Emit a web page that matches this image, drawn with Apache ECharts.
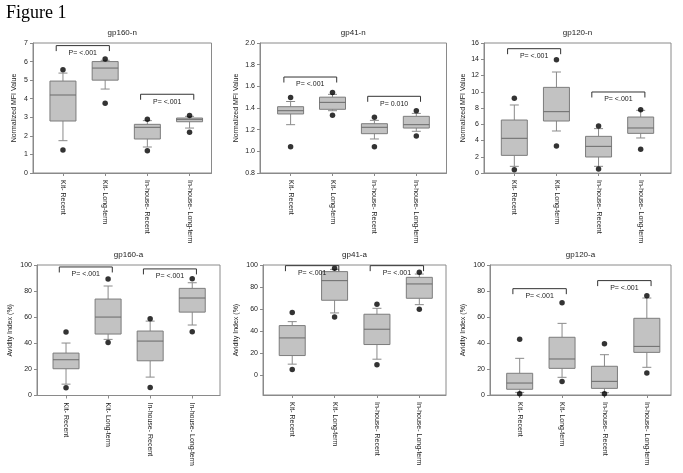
<!DOCTYPE html>
<html>
<head>
<meta charset="utf-8">
<script src="https://cdn.jsdelivr.net/npm/echarts@6/dist/echarts.min.js"></script>
<style>
html,body{margin:0;padding:0;background:#fff;}
#chart{width:683px;height:473px;}
</style>
</head>
<body>
<div id="chart"></div>
<script>
// ---------- DATA ----------
const categories = ['Kit- Recent', 'Kit- Long-term', 'In-house- Recent', 'In-house- Long-term'];
const panelTitles = ['gp160-n', 'gp41-n', 'gp120-n', 'gp160-a', 'gp41-a', 'gp120-a'];
const yAxisNames = ['Normalized MFI Value', 'Normalized MFI Value', 'Normalized MFI Value',
                    'Avidity Index (%)', 'Avidity Index (%)', 'Avidity Index (%)'];

// box values per category: [lower whisker, Q1, median, Q3, upper whisker]
const gp160nBoxes = [[1.74, 2.80, 4.20, 4.95, 5.38], [4.52, 5.00, 5.65, 6.00, 6.07], [1.40, 1.83, 2.46, 2.62, 2.82], [2.42, 2.76, 2.89, 2.96, 3.05]];
const gp41nBoxes  = [[1.246, 1.345, 1.375, 1.412, 1.46], [1.375, 1.388, 1.452, 1.50, 1.526], [1.114, 1.163, 1.222, 1.255, 1.286], [1.185, 1.215, 1.246, 1.323, 1.35]];
const gp120nBoxes = [[0.82, 2.17, 4.27, 6.52, 8.37], [5.17, 6.40, 7.55, 10.54, 12.43], [0.82, 1.97, 3.28, 4.51, 5.46], [4.31, 4.88, 5.54, 6.89, 7.71]];
const gp160aBoxes = [[8.7, 20.5, 27.4, 32.5, 40.2], [43.0, 47.1, 60.1, 73.9, 83.9], [14.1, 26.6, 41.7, 49.4, 57.0], [54.0, 63.9, 74.7, 82.1, 86.4]];
const gp41aBoxes  = [[10.0, 17.8, 33.8, 45.0, 48.6], [56.5, 68.0, 85.8, 94.0, 96.0], [14.5, 27.8, 41.7, 55.3, 60.7], [64.0, 69.8, 82.8, 88.8, 91.8]];
const gp120aBoxes = [[2.0, 4.4, 9.2, 16.7, 28.2], [13.6, 20.5, 27.7, 44.4, 55.1], [1.8, 5.1, 10.5, 22.1, 31.0], [21.3, 32.8, 37.4, 59.0, 74.6]];

// outliers per category: [low, high]
const gp160nOutliers = [[1.24, 5.56], [3.75, 6.14], [1.20, 2.89], [2.19, 3.09]];
const gp41nOutliers  = [[1.043, 1.498], [1.332, 1.542], [1.043, 1.314], [1.142, 1.375]];
const gp120nOutliers = [[0.41, 9.19], [3.32, 13.95], [0.49, 5.78], [2.91, 7.79]];
const gp160aOutliers = [[5.9, 48.6], [40.7, 89.3], [6.1, 58.8], [48.8, 89.5]];
const gp41aOutliers  = [[5.1, 56.8], [52.9, 97.0], [9.4, 64.4], [59.8, 93.4]];
const gp120aOutliers = [[1.0, 42.8], [10.3, 71.0], [1.0, 39.5], [16.9, 76.4]];

// P-value comparisons: Kit (Recent vs Long-term), In-house (Recent vs Long-term)
const gp160nPvalues = ['P= <.001', 'P= <.001'];
const gp41nPvalues  = ['P= <.001', 'P= 0.010'];
const gp120nPvalues = ['P= <.001', 'P= <.001'];
const gp160aPvalues = ['P= <.001', 'P= <.001'];
const gp41aPvalues  = ['P= <.001', 'P= <.001'];
const gp120aPvalues = ['P= <.001', 'P= <.001'];
// bracket heights (y value of the bracket bar)
const gp160nBracketY = [6.86, 4.24];
const gp41nBracketY  = [1.686, 1.508];
const gp120nBracketY = [15.3, 9.97];
const gp160aBracketY = [98.5, 97];
const gp41aBracketY  = [99.4, 99.4];
const gp120aBracketY = [81.8, 88];

// y-axis ticks
const gp160nTicks = [0, 1, 2, 3, 4, 5, 6, 7];
const gp41nTicks  = [0.8, 1.0, 1.2, 1.4, 1.6, 1.8, 2.0];
const gp120nTicks = [0, 2, 4, 6, 8, 10, 12, 14, 16];
const avidityTicks = [0, 20, 40, 60, 80, 100];

// ---------- LAYOUT / STYLE ----------
const panels = [
  {boxes: gp160nBoxes, outl: gp160nOutliers, pv: gp160nPvalues, by: gp160nBracketY, ticks: gp160nTicks, dec: 0,
   grid: {left: 33, top: 43, width: 178.5, height: 130}, xr: [0.29, 4.52], yr: [0, 7], nameGap: 15},
  {boxes: gp41nBoxes, outl: gp41nOutliers, pv: gp41nPvalues, by: gp41nBracketY, ticks: gp41nTicks, dec: 1,
   grid: {left: 260, top: 43, width: 186.5, height: 130}, xr: [0.27, 4.72], yr: [0.8, 2.0], nameGap: 20},
  {boxes: gp120nBoxes, outl: gp120nOutliers, pv: gp120nPvalues, by: gp120nBracketY, ticks: gp120nTicks, dec: 0,
   grid: {left: 484, top: 43, width: 187, height: 130}, xr: [0.28, 4.72], yr: [0, 16], nameGap: 17},
  {boxes: gp160aBoxes, outl: gp160aOutliers, pv: gp160aPvalues, by: gp160aBracketY, ticks: avidityTicks, dec: 0,
   grid: {left: 37, top: 265, width: 183, height: 130.5}, xr: [0.31, 4.66], yr: [0, 100], nameGap: 23},
  {boxes: gp41aBoxes, outl: gp41aOutliers, pv: gp41aPvalues, by: gp41aBracketY, ticks: avidityTicks, dec: 0,
   grid: {left: 263, top: 265, width: 183, height: 130}, xr: [0.31, 4.63], yr: [-18, 100], nameGap: 23},
  {boxes: gp120aBoxes, outl: gp120aOutliers, pv: gp120aPvalues, by: gp120aBracketY, ticks: avidityTicks, dec: 0,
   grid: {left: 490, top: 265, width: 181, height: 130}, xr: [0.30, 4.57], yr: [0, 100], nameGap: 23}
];

const FONT = 'Liberation Sans, Arial, sans-serif';
const FRAME = '#8a8a8a';
const TXT = '#222';

const option = {
  animation: false,
  backgroundColor: '#fff',
  title: [], grid: [], xAxis: [], yAxis: [], series: []
};

option.title.push({
  text: 'Figure 1', left: 6, top: 4, padding: 0,
  textStyle: {fontFamily: 'Liberation Serif, Times New Roman, serif', fontSize: 18, fontWeight: 'normal', color: '#000'}
});

panels.forEach((p, k) => {
  const g = p.grid;
  option.title.push({
    text: panelTitles[k], left: g.left + g.width / 2, top: g.top - 14, textAlign: 'center', padding: 0,
    textStyle: {fontFamily: FONT, fontSize: 8, fontWeight: 'normal', color: TXT}
  });
  option.grid.push({left: g.left, top: g.top, width: g.width, height: g.height,
    show: true, borderColor: FRAME, borderWidth: 1, backgroundColor: 'transparent', containLabel: false});
  option.xAxis.push({
    type: 'value', gridIndex: k, min: p.xr[0], max: p.xr[1],
    axisLine: {show: true, onZero: false, lineStyle: {color: FRAME}},
    axisTick: {show: true, customValues: [1, 2, 3, 4], length: 3, lineStyle: {color: FRAME}},
    axisLabel: {show: true, customValues: [1, 2, 3, 4], rotate: -90, margin: 7,
      formatter: v => categories[Math.round(v) - 1], fontFamily: FONT, fontSize: 7, color: TXT},
    splitLine: {show: false}
  });
  option.yAxis.push({
    type: 'value', gridIndex: k, min: p.yr[0], max: p.yr[1],
    name: yAxisNames[k], nameLocation: 'middle', nameGap: p.nameGap, nameRotate: 90,
    nameTextStyle: {fontFamily: FONT, fontSize: 7, color: TXT},
    axisLine: {show: true, onZero: false, lineStyle: {color: FRAME}},
    axisTick: {show: true, customValues: p.ticks, length: 3, lineStyle: {color: FRAME}},
    axisLabel: {show: true, customValues: p.ticks, margin: 5,
      formatter: v => Number(v).toFixed(p.dec), fontFamily: FONT, fontSize: 7, color: TXT},
    splitLine: {show: false}
  });
  // boxes
  option.series.push({
    type: 'custom', xAxisIndex: k, yAxisIndex: k,
    data: p.boxes.map((b, i) => [i + 1].concat(b)),
    encode: {x: 0, y: [1, 2, 3, 4, 5]},
    renderItem: (params, api) => {
      const x = api.value(0);
      const lo = api.coord([x, api.value(1)]);
      const q1 = api.coord([x, api.value(2)]);
      const md = api.coord([x, api.value(3)]);
      const q3 = api.coord([x, api.value(4)]);
      const hi = api.coord([x, api.value(5)]);
      const cx = lo[0], hw = 13, cw = 4.5;
      const ws = {stroke: '#8a8a8a', lineWidth: 1};
      return {type: 'group', children: [
        {type: 'line', shape: {x1: cx, y1: q1[1], x2: cx, y2: lo[1]}, style: ws},
        {type: 'line', shape: {x1: cx - cw, y1: lo[1], x2: cx + cw, y2: lo[1]}, style: ws},
        {type: 'line', shape: {x1: cx, y1: q3[1], x2: cx, y2: hi[1]}, style: ws},
        {type: 'line', shape: {x1: cx - cw, y1: hi[1], x2: cx + cw, y2: hi[1]}, style: ws},
        {type: 'rect', shape: {x: cx - hw, y: q3[1], width: 2 * hw, height: q1[1] - q3[1]},
          style: {fill: '#c2c2c2', stroke: '#7c7c7c', lineWidth: 1}},
        {type: 'line', shape: {x1: cx - hw, y1: md[1], x2: cx + hw, y2: md[1]}, style: {stroke: '#6a6a6a', lineWidth: 1}}
      ]};
    }
  });
  // outliers
  const pts = [];
  p.outl.forEach((o, i) => o.forEach(v => pts.push([i + 1, v])));
  option.series.push({
    type: 'scatter', xAxisIndex: k, yAxisIndex: k, data: pts,
    symbol: 'circle', symbolSize: 5.5, itemStyle: {color: '#000'}, z: 5
  });
  // brackets with P values
  option.series.push({
    type: 'custom', xAxisIndex: k, yAxisIndex: k,
    data: [[1, 2, p.by[0]], [3, 4, p.by[1]]],
    encode: {x: [0, 1], y: 2},
    z: 6,
    renderItem: (params, api) => {
      const a = api.coord([api.value(0) - 0.16, api.value(2)]);
      const b = api.coord([api.value(1) + 0.1, api.value(2)]);
      const tk = 5.5;
      return {type: 'group', children: [
        {type: 'polyline', shape: {points: [[a[0], a[1] + tk], [a[0], a[1]], [b[0], a[1]], [b[0], a[1] + tk]]},
          style: {stroke: '#333', lineWidth: 1, fill: null}},
        {type: 'text', style: {text: p.pv[params.dataIndex], x: (a[0] + b[0]) / 2, y: a[1] + 7.5,
          align: 'center', verticalAlign: 'middle', fontSize: 7, fontFamily: FONT, fill: TXT}}
      ]};
    }
  });
});

const chart = echarts.init(document.getElementById('chart'), null, {renderer: 'canvas'});
chart.setOption(option);
</script>
</body>
</html>
